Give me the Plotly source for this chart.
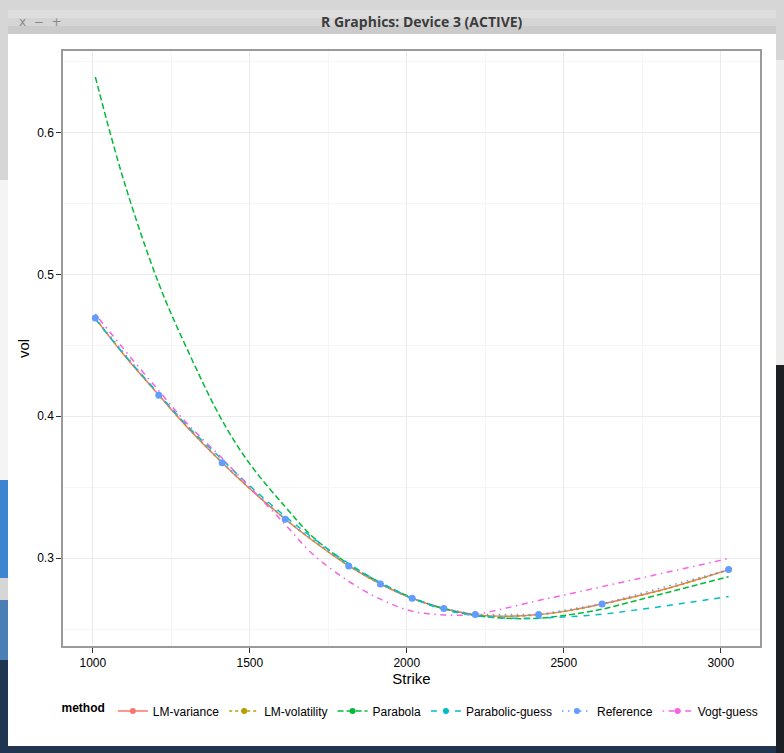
import plotly.graph_objects as go

# strike grid used for the fitted smiles
strike_grid = [1008, 1100, 1210, 1300, 1412, 1500, 1613, 1700, 1815, 1916, 2017,
               2118, 2218, 2320, 2420, 2520, 2622, 2720, 2820, 2920, 3025]

lm_variance = [0.469, 0.443, 0.415, 0.3925, 0.3673, 0.349, 0.3275, 0.3125, 0.2946, 0.2819, 0.2718,
               0.2646, 0.2603, 0.2592, 0.2603, 0.2633, 0.2678, 0.2727, 0.2782, 0.2847, 0.2920]
lm_volatility = [0.4692, 0.4432, 0.4151, 0.3926, 0.3673, 0.3491, 0.3276, 0.3126, 0.2947, 0.2819, 0.2718,
                 0.2645, 0.2603, 0.2591, 0.2602, 0.2632, 0.2677, 0.2725, 0.2780, 0.2845, 0.2918]
parabola = [0.639, 0.565, 0.4935, 0.4475, 0.397, 0.3665, 0.3362, 0.3152, 0.2958, 0.2828, 0.2722,
            0.2645, 0.2597, 0.2577, 0.2578, 0.2603, 0.2641, 0.2696, 0.2753, 0.2810, 0.2870]
parabolic_guess = [0.4685, 0.4435, 0.4158, 0.3935, 0.3695, 0.351, 0.3295, 0.3145, 0.2962, 0.2828, 0.2718,
                   0.2640, 0.2596, 0.2578, 0.2579, 0.2589, 0.2606, 0.2633, 0.2663, 0.2696, 0.2730]
vogt_guess = [0.472, 0.447, 0.418, 0.395, 0.3704, 0.350, 0.3237, 0.303, 0.2838, 0.2712, 0.2627,
              0.2601, 0.2605, 0.2651, 0.2703, 0.2750, 0.2800, 0.2848, 0.2897, 0.2946, 0.2998]

# market reference quotes
ref_strike = [1008, 1210, 1412, 1613, 1815, 1916, 2017, 2118, 2218, 2420, 2622, 3025]
ref_vol = [0.4692, 0.4148, 0.3673, 0.3275, 0.2946, 0.2819, 0.2718, 0.2646, 0.2603, 0.2603, 0.2678, 0.2920]

x_ticks = [1000, 1500, 2000, 2500, 3000]
y_ticks = [0.3, 0.4, 0.5, 0.6]

W, H = 784, 753
L, R, T, B = 63, 24, 51, 107
X0, X1 = L, W - R
Y0, Y1 = T, H - B


def fx(px):
    return (px - X0) / (X1 - X0)


def fy(py):
    return (Y1 - py) / (Y1 - Y0)


def rect(x0, y0, x1, y1, color):
    return dict(type="rect", xref="paper", yref="paper", layer="below",
                x0=fx(x0), x1=fx(x1), y0=fy(y1), y1=fy(y0),
                fillcolor=color, line=dict(width=0))


series = [
    ("LM-variance", strike_grid, lm_variance, "#F8766D", "solid"),
    ("LM-volatility", strike_grid, lm_volatility, "#B79F00", "3px,3px"),
    ("Parabola", strike_grid, parabola, "#00BA38", "6px,3px"),
    ("Parabolic-guess", strike_grid, parabolic_guess, "#00BFC4", "6px,6px"),
    ("Reference", ref_strike, ref_vol, "#619CFF", "1.5px,4.5px"),
    ("Vogt-guess", strike_grid, vogt_guess, "#F564E3", "1.5px,4.5px,6px,4.5px"),
]

fig = go.Figure()

for name, xs, ys, col, dash in series:
    fig.add_trace(go.Scatter(
        x=xs, y=ys, mode="lines", name=name, legendgroup=name, showlegend=False,
        line=dict(color=col, width=1.5, dash=dash,
                  shape="linear" if name == "Reference" else "spline", smoothing=1.0),
        hoverinfo="skip"))

fig.add_trace(go.Scatter(
    x=ref_strike, y=ref_vol, mode="markers", legendgroup="Reference", showlegend=False,
    marker=dict(color="#619CFF", size=7)))

# legend keys (line + point, like ggplot)
for name, xs, ys, col, dash in series:
    fig.add_trace(go.Scatter(
        x=[None], y=[None], mode="lines+markers", name=name, legendgroup=name,
        line=dict(color=col, width=1.5, dash=dash),
        marker=dict(color=col, size=6)))

# window chrome around the R device
shapes = [
    rect(0, 0, W, H, "#d6d6d6"),
    rect(0, 180, 8, 480, "#f4f4f4"),
    rect(0, 480, 8, 578, "#3d85d1"),
    rect(0, 600, 8, 660, "#4a7fb5"),
    rect(0, 660, W, H, "#1f3550"),
    rect(776, 365, W, H, "#1c1f24"),
    rect(776, 60, W, 365, "#ededed"),
    rect(8, 10, 776, 18, "#dedede"),
    rect(8, 18, 776, 26, "#d5d5d5"),
    rect(8, 26, 776, 34, "#cbcbcb"),
    rect(8, 34, 776, 746, "#ffffff"),
]

annotations = [
    dict(text="<b>R Graphics: Device 3 (ACTIVE)</b>", xref="paper", yref="paper",
         x=fx(422), y=fy(22), showarrow=False, xanchor="center", yanchor="middle",
         font=dict(family="Open Sans", size=14, color="#3c3c3c")),
    dict(text="x  −  +", xref="paper", yref="paper",
         x=fx(40), y=fy(22), showarrow=False, xanchor="center", yanchor="middle",
         font=dict(family="DejaVu Sans", size=12, color="#8a8a8a")),
]

axis_common = dict(
    showline=True, linecolor="#9a9a9a", linewidth=1.5, mirror=True,
    showgrid=True, gridcolor="#ebebeb", gridwidth=1,
    ticks="outside", ticklen=5, tickwidth=1.3, tickcolor="#333333",
    tickfont=dict(family="Liberation Sans", size=12, color="#000000"),
    zeroline=False,
)

fig.update_layout(
    width=W, height=H, autosize=False,
    margin=dict(l=L, r=R, t=T, b=B),
    paper_bgcolor="#d6d6d6", plot_bgcolor="#ffffff",
    font=dict(family="Liberation Sans", size=12, color="#000000"),
    shapes=shapes, annotations=annotations,
    xaxis=dict(axis_common, range=[905, 3125], tickvals=x_ticks,
               minor=dict(dtick=250, tick0=1000, showgrid=True, gridcolor="#f6f6f6", ticks=""),
               title=dict(text="Strike", font=dict(size=15), standoff=3)),
    yaxis=dict(axis_common, range=[0.2382, 0.6573], tickvals=y_ticks,
               minor=dict(dtick=0.05, tick0=0.25, showgrid=True, gridcolor="#f6f6f6", ticks=""),
               title=dict(text="vol", font=dict(size=15), standoff=4)),
    legend=dict(orientation="h", x=0.5, xanchor="center", y=fy(711), yanchor="middle",
                title=dict(text="<b>method</b>", side="left", font=dict(size=12)),
                font=dict(size=12), itemwidth=30, bgcolor="rgba(0,0,0,0)",
                tracegroupgap=0),
    showlegend=True,
)

fig.write_html("out.html", config={"displayModeBar": False},
               post_script="document.body.style.margin='0';document.body.style.overflow='hidden';")
